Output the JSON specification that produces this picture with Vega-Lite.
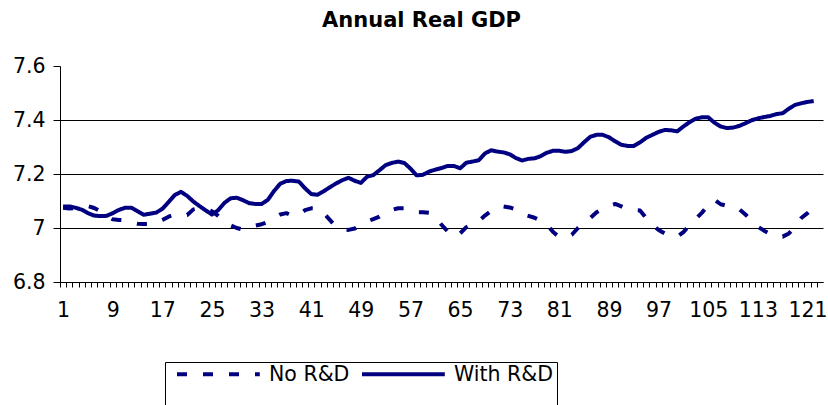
{
  "$schema": "https://vega.github.io/schema/vega-lite/v6.json",
  "width": 763,
  "height": 216,
  "autosize": {"type": "none"},
  "padding": {"left": 60, "top": 66, "right": 5, "bottom": 123},
  "background": "white",
  "title": {"text": "Annual Real GDP", "font": "DejaVu Sans", "fontSize": 21, "fontWeight": "bold", "color": "black", "anchor": "middle", "dx": -20, "offset": 8, "baseline": "alphabetic"},
  "config": {"view": {"stroke": null}},
  "data": {"values": [
    {"t":1,"noRD":7.075,"withRD":7.08},{"t":2,"noRD":7.072,"withRD":7.08},{"t":3,"noRD":7.074,"withRD":7.075},{"t":4,"noRD":7.078,"withRD":7.068},{"t":5,"noRD":7.081,"withRD":7.055},
    {"t":6,"noRD":7.074,"withRD":7.046},{"t":7,"noRD":7.062,"withRD":7.044},{"t":8,"noRD":7.046,"withRD":7.045},{"t":9,"noRD":7.032,"withRD":7.055},{"t":10,"noRD":7.03,"withRD":7.067},
    {"t":11,"noRD":7.028,"withRD":7.075},{"t":12,"noRD":7.021,"withRD":7.075},{"t":13,"noRD":7.016,"withRD":7.062},{"t":14,"noRD":7.015,"withRD":7.049},{"t":15,"noRD":7.015,"withRD":7.053},
    {"t":16,"noRD":7.02,"withRD":7.057},{"t":17,"noRD":7.03,"withRD":7.071},{"t":18,"noRD":7.042,"withRD":7.096},{"t":19,"noRD":7.05,"withRD":7.122},{"t":20,"noRD":7.046,"withRD":7.134},
    {"t":21,"noRD":7.048,"withRD":7.119},{"t":22,"noRD":7.069,"withRD":7.098},{"t":23,"noRD":7.073,"withRD":7.081},{"t":24,"noRD":7.072,"withRD":7.065},{"t":25,"noRD":7.062,"withRD":7.05},
    {"t":26,"noRD":7.045,"withRD":7.066},{"t":27,"noRD":7.025,"withRD":7.093},{"t":28,"noRD":7.01,"withRD":7.11},{"t":29,"noRD":7.0,"withRD":7.112},{"t":30,"noRD":6.994,"withRD":7.103},
    {"t":31,"noRD":7.0,"withRD":7.092},{"t":32,"noRD":7.009,"withRD":7.089},{"t":33,"noRD":7.014,"withRD":7.089},{"t":34,"noRD":7.022,"withRD":7.104},{"t":35,"noRD":7.037,"withRD":7.137},
    {"t":36,"noRD":7.05,"withRD":7.164},{"t":37,"noRD":7.055,"withRD":7.174},{"t":38,"noRD":7.045,"withRD":7.175},{"t":39,"noRD":7.05,"withRD":7.172},{"t":40,"noRD":7.066,"withRD":7.147},
    {"t":41,"noRD":7.073,"withRD":7.126},{"t":42,"noRD":7.073,"withRD":7.123},{"t":43,"noRD":7.055,"withRD":7.136},{"t":44,"noRD":7.03,"withRD":7.151},{"t":45,"noRD":7.005,"withRD":7.165},
    {"t":46,"noRD":6.995,"withRD":7.177},{"t":47,"noRD":6.993,"withRD":7.186},{"t":48,"noRD":6.998,"withRD":7.175},{"t":49,"noRD":7.013,"withRD":7.167},{"t":50,"noRD":7.024,"withRD":7.19},
    {"t":51,"noRD":7.033,"withRD":7.196},{"t":52,"noRD":7.042,"withRD":7.214},{"t":53,"noRD":7.058,"withRD":7.233},{"t":54,"noRD":7.067,"withRD":7.241},{"t":55,"noRD":7.073,"withRD":7.246},
    {"t":56,"noRD":7.073,"withRD":7.241},{"t":57,"noRD":7.063,"withRD":7.22},{"t":58,"noRD":7.058,"withRD":7.195},{"t":59,"noRD":7.058,"withRD":7.197},{"t":60,"noRD":7.056,"withRD":7.209},
    {"t":61,"noRD":7.04,"withRD":7.216},{"t":62,"noRD":7.012,"withRD":7.222},{"t":63,"noRD":6.987,"withRD":7.23},{"t":64,"noRD":6.968,"withRD":7.23},{"t":65,"noRD":6.98,"withRD":7.221},
    {"t":66,"noRD":7.003,"withRD":7.242},{"t":67,"noRD":7.016,"withRD":7.246},{"t":68,"noRD":7.026,"withRD":7.251},{"t":69,"noRD":7.046,"withRD":7.276},{"t":70,"noRD":7.063,"withRD":7.288},
    {"t":71,"noRD":7.077,"withRD":7.283},{"t":72,"noRD":7.08,"withRD":7.28},{"t":73,"noRD":7.076,"withRD":7.273},{"t":74,"noRD":7.068,"withRD":7.259},{"t":75,"noRD":7.052,"withRD":7.25},
    {"t":76,"noRD":7.045,"withRD":7.256},{"t":77,"noRD":7.038,"withRD":7.258},{"t":78,"noRD":7.027,"withRD":7.266},{"t":79,"noRD":7.012,"withRD":7.279},{"t":80,"noRD":6.985,"withRD":7.286},
    {"t":81,"noRD":6.966,"withRD":7.286},{"t":82,"noRD":6.965,"withRD":7.282},{"t":83,"noRD":6.975,"withRD":7.285},{"t":84,"noRD":7.0,"withRD":7.296},{"t":85,"noRD":7.022,"withRD":7.318},
    {"t":86,"noRD":7.037,"withRD":7.338},{"t":87,"noRD":7.058,"withRD":7.345},{"t":88,"noRD":7.071,"withRD":7.345},{"t":89,"noRD":7.082,"withRD":7.336},{"t":90,"noRD":7.089,"withRD":7.321},
    {"t":91,"noRD":7.08,"withRD":7.308},{"t":92,"noRD":7.069,"withRD":7.304},{"t":93,"noRD":7.067,"withRD":7.304},{"t":94,"noRD":7.065,"withRD":7.317},{"t":95,"noRD":7.037,"withRD":7.334},
    {"t":96,"noRD":7.01,"withRD":7.345},{"t":97,"noRD":6.993,"withRD":7.356},{"t":98,"noRD":6.98,"withRD":7.363},{"t":99,"noRD":6.97,"withRD":7.362},{"t":100,"noRD":6.968,"withRD":7.358},
    {"t":101,"noRD":6.985,"withRD":7.376},{"t":102,"noRD":7.01,"withRD":7.392},{"t":103,"noRD":7.034,"withRD":7.405},{"t":104,"noRD":7.057,"withRD":7.41},{"t":105,"noRD":7.085,"withRD":7.41},
    {"t":106,"noRD":7.105,"withRD":7.39},{"t":107,"noRD":7.088,"withRD":7.376},{"t":108,"noRD":7.082,"withRD":7.37},{"t":109,"noRD":7.08,"withRD":7.372},{"t":110,"noRD":7.07,"withRD":7.378},
    {"t":111,"noRD":7.05,"withRD":7.388},{"t":112,"noRD":7.027,"withRD":7.399},{"t":113,"noRD":7.005,"withRD":7.406},{"t":114,"noRD":6.99,"withRD":7.411},{"t":115,"noRD":6.978,"withRD":7.415},
    {"t":116,"noRD":6.968,"withRD":7.422},{"t":117,"noRD":6.968,"withRD":7.425},{"t":118,"noRD":6.98,"withRD":7.442},{"t":119,"noRD":7.005,"withRD":7.456},{"t":120,"noRD":7.037,"withRD":7.462},
    {"t":121,"noRD":7.055,"withRD":7.467},{"t":122,"noRD":7.078,"withRD":7.47},{"t":123,"noRD":7.095,"withRD":null}
  ]},
  "transform": [{"fold": ["noRD", "withRD"], "as": ["series", "gdp"]}],
  "mark": {"type": "line", "strokeWidth": 4, "strokeCap": "butt", "strokeJoin": "round"},
  "encoding": {
    "x": {
      "field": "t", "type": "quantitative",
      "scale": {"domain": [0.5, 123.5], "nice": false, "zero": false},
      "axis": {
        "title": null, "grid": false,
        "values": [1,2,3,4,5,6,7,8,9,10,11,12,13,14,15,16,17,18,19,20,21,22,23,24,25,26,27,28,29,30,31,32,33,34,35,36,37,38,39,40,41,42,43,44,45,46,47,48,49,50,51,52,53,54,55,56,57,58,59,60,61,62,63,64,65,66,67,68,69,70,71,72,73,74,75,76,77,78,79,80,81,82,83,84,85,86,87,88,89,90,91,92,93,94,95,96,97,98,99,100,101,102,103,104,105,106,107,108,109,110,111,112,113,114,115,116,117,118,119,120,121,122,123],
        "labelExpr": "(datum.value - 1) % 8 == 0 ? datum.label : ''",
        "tickSize": 5, "tickOffset": -3.1, "labelOffset": 3.1, "tickColor": "black", "domainColor": "black",
        "labelFont": "DejaVu Sans", "labelFontSize": 20.5, "labelColor": "black", "labelPadding": 13,
        "labelOverlap": false, "labelFlush": false, "labelBound": false, "labelAngle": 0
      }
    },
    "y": {
      "field": "gdp", "type": "quantitative",
      "scale": {"domain": [6.8, 7.6], "nice": false, "zero": false},
      "axis": {
        "title": null, "values": [6.8, 7, 7.2, 7.4, 7.6], "format": "~g",
        "grid": true, "gridColor": "black", "gridWidth": 1,
        "gridOpacity": {"condition": {"test": "datum.value > 7.5", "value": 0}, "value": 1},
        "tickSize": 7, "tickColor": "black", "domainColor": "black",
        "labelFont": "DejaVu Sans", "labelFontSize": 20.5, "labelColor": "black", "labelPadding": 8
      }
    },
    "color": {
      "field": "series", "type": "nominal",
      "scale": {"domain": ["noRD", "withRD"], "range": ["#000080", "#000080"]},
      "legend": {
        "orient": "none", "legendX": 105, "legendY": 296, "direction": "horizontal", "title": null,
        "strokeColor": "black", "padding": 3, "symbolType": "M-1,-0.6H3.6M-1,1.6L-1,1.6", "symbolSize": 1296, "symbolStrokeWidth": 4,
        "labelFont": "DejaVu Sans", "labelFontSize": 20.5, "labelColor": "black", "labelOffset": 54, "labelBaseline": "bottom", "columnPadding": 3, "symbolOffset": 7,
        "labelExpr": "datum.label == 'noRD' ? 'No R&D' : 'With R&D'"
      }
    },
    "strokeDash": {
      "field": "series", "type": "nominal",
      "scale": {"domain": ["noRD", "withRD"], "range": [[10, 16], [1, 0]]},
      "legend": {
        "orient": "none", "legendX": 105, "legendY": 296, "direction": "horizontal", "title": null,
        "strokeColor": "black", "padding": 3, "symbolType": "M-1,-0.6H3.6M-1,1.6L-1,1.6", "symbolSize": 1296, "symbolStrokeWidth": 4,
        "labelFont": "DejaVu Sans", "labelFontSize": 20.5, "labelColor": "black", "labelOffset": 54, "labelBaseline": "bottom", "columnPadding": 3, "symbolOffset": 7,
        "labelExpr": "datum.label == 'noRD' ? 'No R&D' : 'With R&D'"
      }
    }
  }
}
